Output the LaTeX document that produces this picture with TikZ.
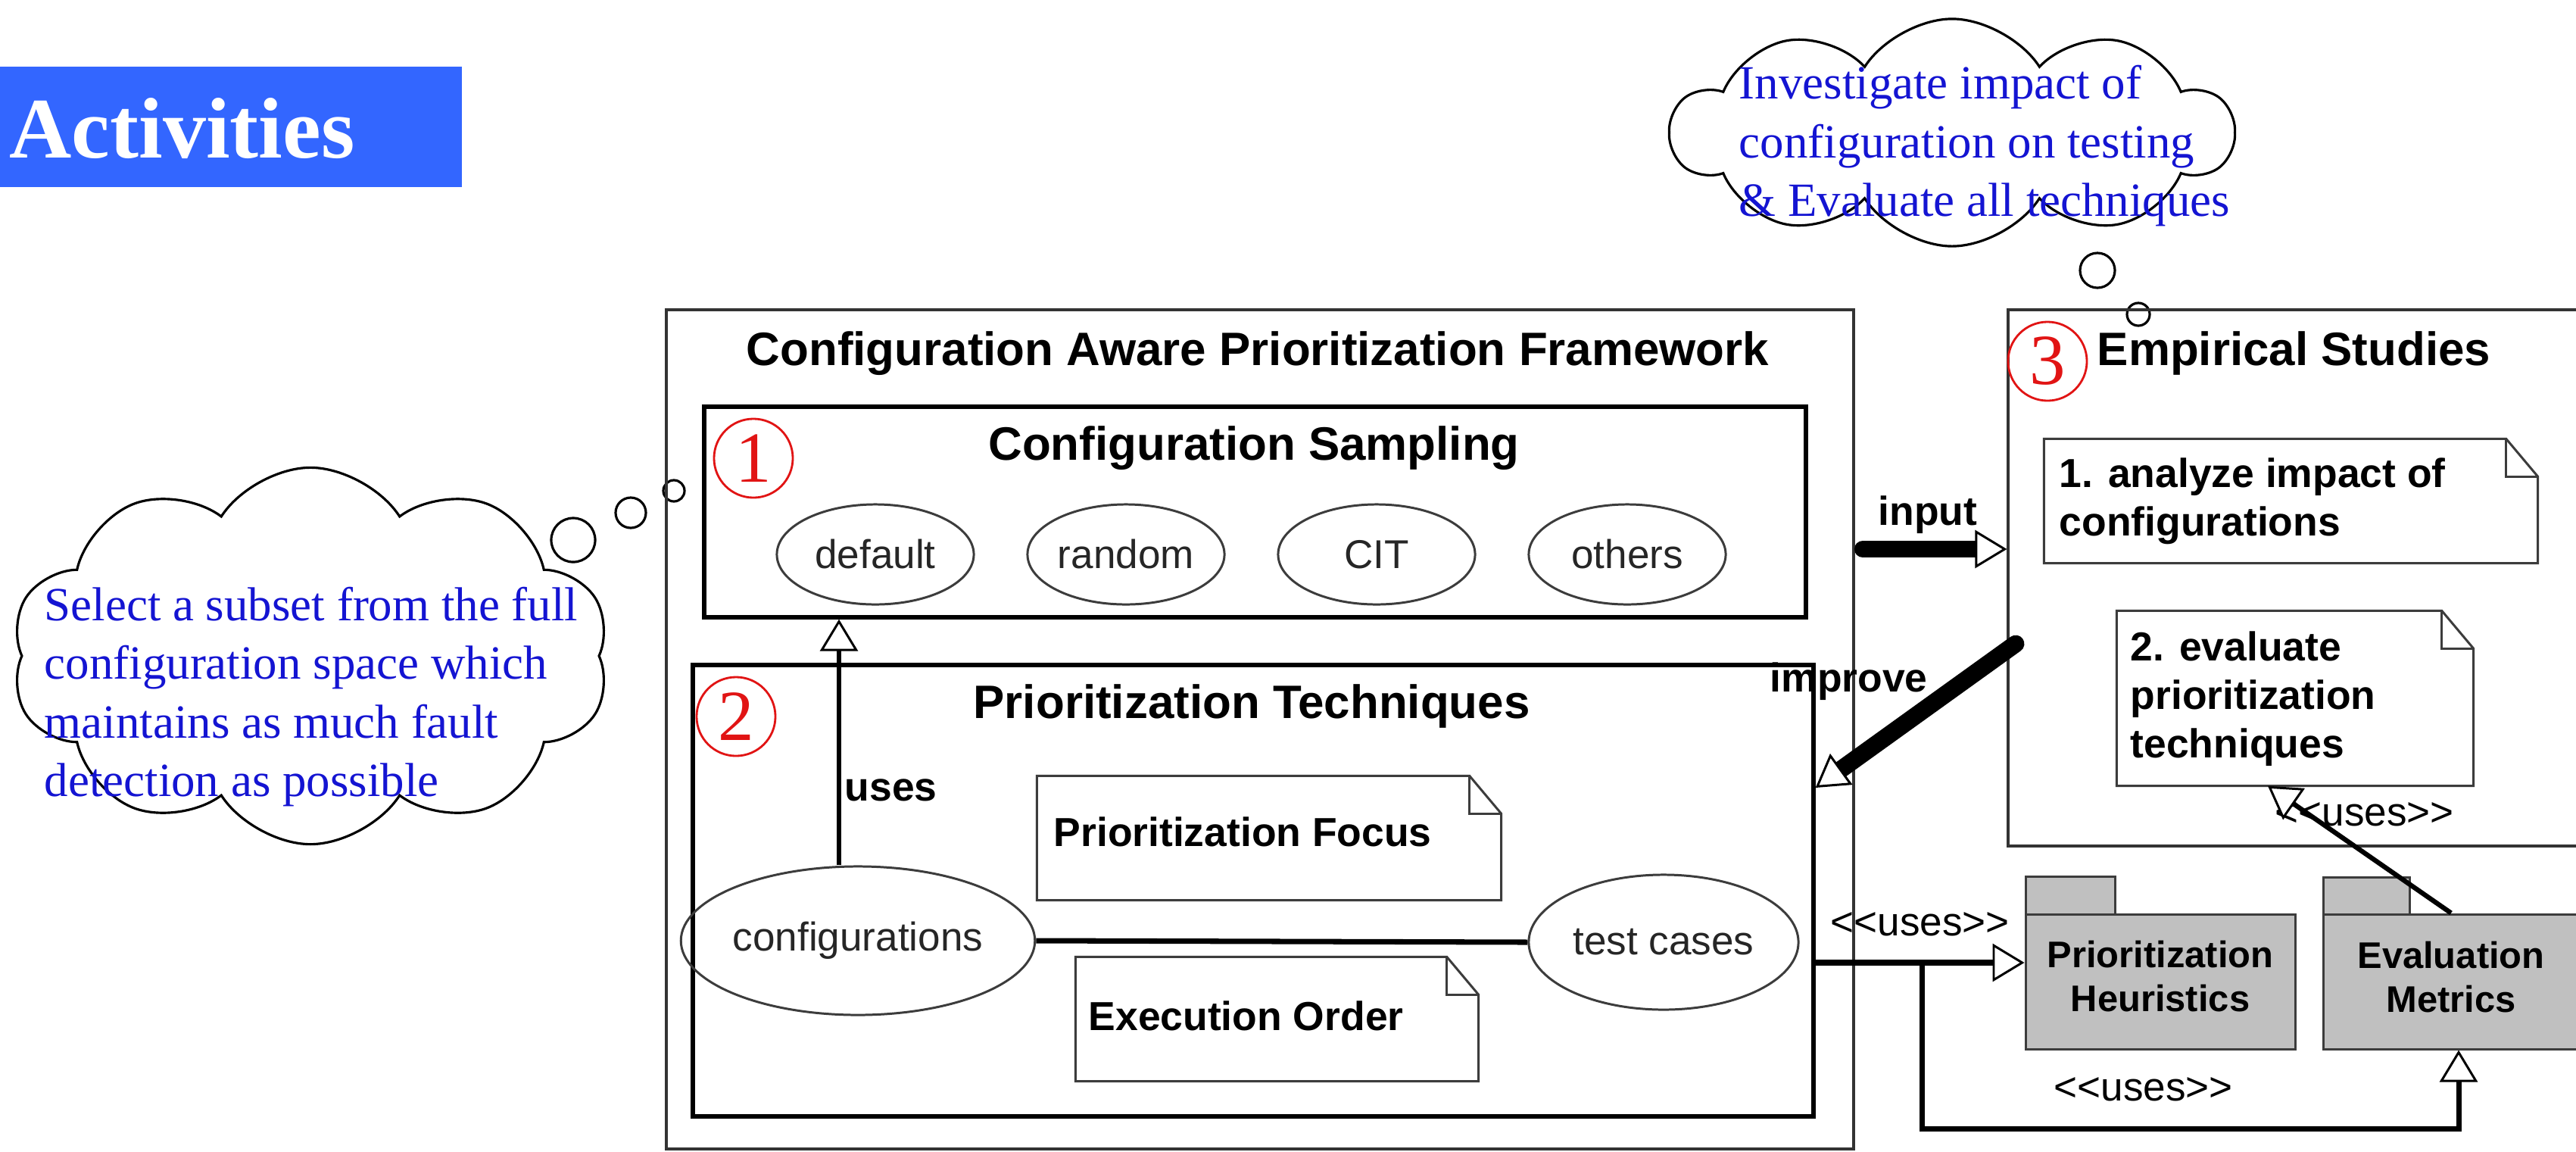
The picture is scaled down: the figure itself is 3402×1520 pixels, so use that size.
\documentclass[tikz,border=0pt]{standalone}
\usepackage{fontspec}
\setmainfont{Liberation Sans}
\newfontfamily\serifcloud{Liberation Serif}
\usetikzlibrary{shapes.geometric,shapes.symbols,arrows.meta,fit}
\definecolor{actblue}{RGB}{51,102,255}
\definecolor{cloudtxt}{RGB}{20,20,210}
\definecolor{numred}{RGB}{225,20,20}
\definecolor{pkggray}{RGB}{192,192,192}
\definecolor{edgegray}{RGB}{60,60,60}
\begin{document}
\begin{tikzpicture}[x=0.01cm,y=-0.01cm,
  frame/.style={draw=black!80,line width=0.9pt,inner sep=0},
  heavy/.style={draw=black,line width=1.5pt,inner sep=0},
  title/.style={font=\fontsize{17.6}{20}\selectfont\bfseries,inner sep=0,anchor=base},
  notetxt/.style={font=\fontsize{15.2}{18.2}\selectfont\bfseries,align=left,inner sep=0,anchor=base west},
  lbl/.style={font=\fontsize{15.2}{18}\selectfont\bfseries,inner sep=0,anchor=base west},
  ulbl/.style={font=\fontsize{15.1}{18}\selectfont,inner sep=0,anchor=base west},
  ell/.style={ellipse,draw=edgegray,line width=0.85pt,inner sep=0,minimum width=2.6cm,minimum height=1.32cm,font=\fontsize{15.1}{18}\selectfont,text=black!85},
  num/.style={circle,draw=numred,line width=0.8pt,minimum size=1.04cm,inner sep=0,text=numred,font=\serifcloud\fontsize{27}{27}\selectfont},
  cloudshape/.style={cloud,cloud puffs=10,cloud puff arc=115,cloud ignores aspect,draw=black,line width=0.9pt,fill=white,inner sep=0},
  bubble/.style={circle,draw=black,line width=0.9pt,inner sep=0},
  cloudtext/.style={font=\serifcloud\fontsize{17.9}{21.9}\selectfont,text=cloudtxt,align=left,inner sep=0,anchor=base west},
  notebox/.style={inner sep=0},
  notedraw/.style={draw=edgegray,line width=0.85pt,fill=white},
  pkg/.style={fill=pkggray,draw=edgegray,line width=0.85pt,inner sep=0},
  pkgtxt/.style={font=\fontsize{13.9}{16.5}\selectfont\bfseries,align=center,inner sep=0,anchor=base},
  openarrow/.style={-{Triangle[fill=white,length=0.42cm,width=0.5cm,line width=0.85pt]}}
]
\path[use as bounding box,fill=white] (0,0) rectangle (3402,1520);
\clip (0,0) rectangle (3402,1520);

% Activities banner
\node[fit={(0,88) (610,247)},inner sep=0,fill=actblue] (act) {};
\node[font=\serifcloud\bfseries\fontsize{32.4}{36}\selectfont,text=white,anchor=base west,inner sep=0] (actlbl) at (12,208) {Activities};

% top thought cloud
\node[cloudshape,minimum width=7.41cm,minimum height=3cm] (cloudA) at (2578,175) {};
\node[bubble,minimum size=0.46cm] (bA1) at (2770,357) {};
\node[bubble,minimum size=0.3cm] (bA2) at (2824,415) {};
\node[cloudtext] (cloudAt) at (2296,285) {Investigate impact of\\configuration on testing\\\& Evaluate all techniques};

% left thought cloud
\node[cloudshape,minimum width=7.9cm,minimum height=4.97cm] (cloudB) at (410,866) {};
\node[bubble,minimum size=0.58cm] (bB1) at (757,713) {};
\node[bubble,minimum size=0.4cm] (bB2) at (833,677) {};
\node[bubble,minimum size=0.28cm] (bB3) at (890,648) {};
\node[cloudtext] (cloudBt) at (58,1051) {Select a subset from the full\\configuration space which\\maintains as much fault\\detection as possible};

% framework
\node[fit={(880,409) (2448,1517)},frame] (fw) {};
\node[title] (fwt) at (1661,482) {Configuration Aware Prioritization Framework};

% configuration sampling
\node[fit={(930,537) (2385,815)},heavy] (cs) {};
\node[title] (cst) at (1656,607) {Configuration Sampling};
\node[num] (num1) at (995,605) {1};
\node[ell] (sdef) at (1156,732) {default};
\node[ell] (srnd) at (1487,732) {random};
\node[ell] (scit) at (1818,732) {CIT};
\node[ell] (soth) at (2149,732) {others};

% prioritization techniques
\node[fit={(915,878) (2395,1474)},heavy] (pt) {};
\node[title] (ptt) at (1653,948) {Prioritization Techniques};
\node[num] (num2) at (972,946) {2};
\node[ell,minimum width=3.82cm,minimum height=1.96cm] (cfg) at (1133,1242) {configurations};
\node[ell,minimum width=3.56cm,minimum height=1.78cm] (tc) at (2197,1244) {test cases};
\draw[line width=2pt] (cfg.east) -- (tc.west);
\draw[line width=1.5pt,openarrow] (1108,0 |- cfg.north) -- (1108,0 |- cs.south);
\node[lbl] (usesl) at (1115,1057) {uses};

% notes in PT
\node[fit={(1370,1025) (1982,1188)},notebox] (nPF) {};
\draw[notedraw] (nPF.north west) -- ([xshift=-0.42cm]nPF.north east) -- ([yshift=-0.5cm]nPF.north east) -- (nPF.south east) -- (nPF.south west) -- cycle;
\draw[edgegray,line width=0.85pt] ([xshift=-0.42cm]nPF.north east) -- ([xshift=-0.42cm,yshift=-0.5cm]nPF.north east) -- ([yshift=-0.5cm]nPF.north east);
\node[notetxt] (nPFt) at (1391,1117) {Prioritization Focus};

\node[fit={(1421,1264) (1952,1427)},notebox] (nEO) {};
\draw[notedraw] (nEO.north west) -- ([xshift=-0.42cm]nEO.north east) -- ([yshift=-0.5cm]nEO.north east) -- (nEO.south east) -- (nEO.south west) -- cycle;
\draw[edgegray,line width=0.85pt] ([xshift=-0.42cm]nEO.north east) -- ([xshift=-0.42cm,yshift=-0.5cm]nEO.north east) -- ([yshift=-0.5cm]nEO.north east);
\node[notetxt] (nEOt) at (1437,1360) {Execution Order};

% empirical studies
\node[fit={(2652,409) (3410,1117)},frame] (es) {};
\node[num] (num3) at (2704,477) {3};
\node[title,anchor=base west] (est) at (2769,482) {Empirical Studies};

\node[fit={(2700,580) (3351,743)},notebox] (nA) {};
\draw[notedraw] (nA.north west) -- ([xshift=-0.42cm]nA.north east) -- ([yshift=-0.5cm]nA.north east) -- (nA.south east) -- (nA.south west) -- cycle;
\draw[edgegray,line width=0.85pt] ([xshift=-0.42cm]nA.north east) -- ([xshift=-0.42cm,yshift=-0.5cm]nA.north east) -- ([yshift=-0.5cm]nA.north east);
\node[notetxt] (nAt) at (2719,707) {1. analyze impact of\\configurations};

\node[fit={(2796,807) (3266,1037)},notebox] (nB) {};
\draw[notedraw] (nB.north west) -- ([xshift=-0.42cm]nB.north east) -- ([yshift=-0.5cm]nB.north east) -- (nB.south east) -- (nB.south west) -- cycle;
\draw[edgegray,line width=0.85pt] ([xshift=-0.42cm]nB.north east) -- ([xshift=-0.42cm,yshift=-0.5cm]nB.north east) -- ([yshift=-0.5cm]nB.north east);
\node[notetxt] (nBt) at (2813,1000) {2. evaluate\\prioritization\\techniques};

% packages
\node[fit={(2675,1157) (2793,1207)},pkg] (phtab) {};
\node[fit={(2675,1207) (3031,1385)},pkg] (ph) {};
\node[pkgtxt] (phl) at (2853,1335) {Prioritization\\Heuristics};
\node[fit={(3068,1158) (3182,1207)},pkg] (emtab) {};
\node[fit={(3068,1207) (3406,1385)},pkg] (em) {};
\node[pkgtxt] (eml) at (3237,1336) {Evaluation\\Metrics};

% labels
\node[lbl] (inputl) at (2480,693) {input};
\node[lbl] (impl) at (2337,913) {improve};
\node[ulbl] (u1) at (2417,1235) {{<}{<}uses{>}{>}};
\node[ulbl] (u2) at (2712,1453) {{<}{<}uses{>}{>}};
\node[ulbl] (u3) at (3004,1090) {{<}{<}uses{>}{>}};

% connectors
\coordinate (inS) at (2460,725);
\draw[line width=6.3pt,line cap=round,openarrow] (inS) -- (es.west |- inS);
\coordinate (impS) at (2662,850);
\draw[line width=6.5pt,line cap=round,openarrow] (impS) -- (pt.east |- 0,1040);
\draw[line width=2.3pt,openarrow] (pt.east |- 0,1271) -- (ph.west |- 0,1271);
\coordinate (split) at (2538,1271);
\draw[line width=2pt,openarrow] (split) -- (2538,1490) -- (3247,1490) -- (3247,0 |- em.south);
\draw[line width=1.8pt,openarrow] (em.north) -- (2995,0 |- nB.south);
\end{tikzpicture}
\end{document}
